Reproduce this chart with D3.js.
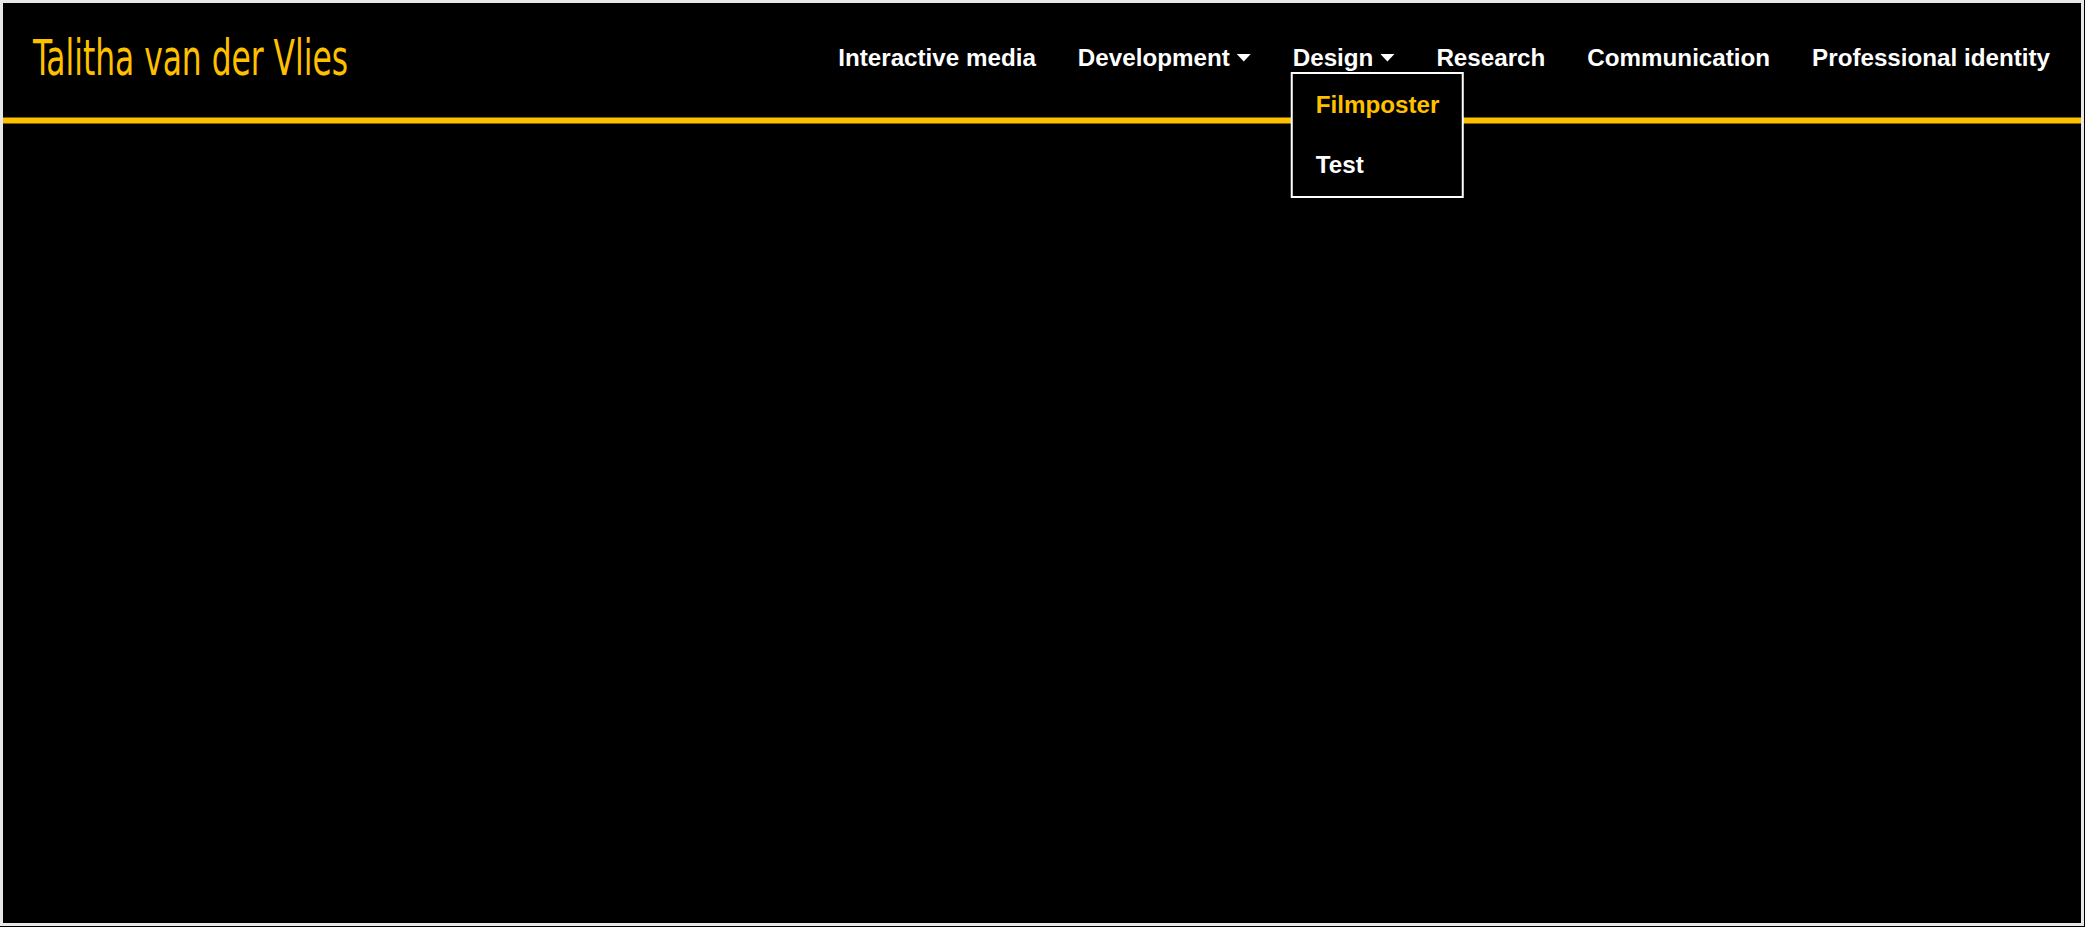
<!DOCTYPE html>
<html>
<head>
<meta charset="utf-8">
<script src="https://cdn.jsdelivr.net/npm/d3@7"></script>
<style>
  html, body { margin: 0; padding: 0; background: #000; }
  svg { display: block; }
</style>
</head>
<body>
<div id="chart"></div>
<script>
// Page content
const siteTitle = "Talitha van der Vlies";
const navItems = ["Interactive media", "Development", "Design", "Research", "Communication", "Professional identity"];
const navHasMenu = [false, true, true, false, false, false];
const openMenu = "Design";
const menuItems = ["Filmposter", "Test"];
const menuActive = ["Filmposter"];

const W = 2085, H = 927;
const yellow = "#ffc000";

const svg = d3.select("#chart").append("svg")
    .attr("width", W)
    .attr("height", H);

svg.append("rect")
    .attr("width", W)
    .attr("height", H)
    .attr("fill", "#000");

// yellow rule under the header
svg.append("line")
    .attr("x1", 3).attr("x2", W - 4)
    .attr("y1", 120.5).attr("y2", 120.5)
    .attr("stroke", yellow)
    .attr("stroke-width", 6);

// handwritten title
svg.append("text")
    .attr("x", 33)
    .attr("y", 75)
    .attr("textLength", 315)
    .attr("lengthAdjust", "spacingAndGlyphs")
    .attr("font-family", "'Liberation Sans Narrow', 'DejaVu Sans Condensed', sans-serif")
    .attr("font-size", 50)
    .attr("fill", yellow)
    .text(siteTitle);

// nav, laid out right to left
const nav = svg.append("g")
    .attr("font-family", "'Liberation Sans', Arial, sans-serif")
    .attr("font-weight", "bold")
    .attr("font-size", 24.2)
    .attr("fill", "#fff");

const gap = 42, caretW = 14, caretPad = 7;
let right = 2050;
const starts = {};
for (let i = navItems.length - 1; i >= 0; i--) {
    const t = nav.append("text").attr("y", 66).text(navItems[i]);
    const w = t.node().getComputedTextLength();
    const extra = navHasMenu[i] ? caretPad + caretW : 0;
    const x0 = right - extra - w;
    t.attr("x", x0);
    if (navHasMenu[i]) {
        const cx = x0 + w + caretPad;
        nav.append("path")
            .attr("d", `M${cx},54 L${cx + caretW},54 L${cx + caretW / 2},61.5 Z`)
            .attr("fill", "#fff");
    }
    starts[navItems[i]] = x0;
    right = x0 - gap;
}

// open dropdown
const bx = starts[openMenu] - 1;
const menu = svg.append("g");
menu.append("rect")
    .attr("x", bx).attr("y", 73)
    .attr("width", 171).attr("height", 124)
    .attr("fill", "#000")
    .attr("stroke", "#fff")
    .attr("stroke-width", 2);

const itemY = d3.scalePoint()
    .domain(menuItems)
    .range([113, 173]);

menu.selectAll("text.item")
    .data(menuItems)
    .join("text")
    .attr("class", "item")
    .attr("x", bx + 24)
    .attr("y", d => itemY(d))
    .attr("font-family", "'Liberation Sans', Arial, sans-serif")
    .attr("font-weight", "bold")
    .attr("font-size", 24.2)
    .attr("fill", d => menuActive.includes(d) ? yellow : "#fff")
    .text(d => d);

// light frame round the screenshot
svg.append("rect")
    .attr("x", 1.5).attr("y", 1.5)
    .attr("width", W - 4).attr("height", H - 4)
    .attr("fill", "none")
    .attr("stroke", "#e8e8e8")
    .attr("stroke-width", 3);
</script>
</body>
</html>
